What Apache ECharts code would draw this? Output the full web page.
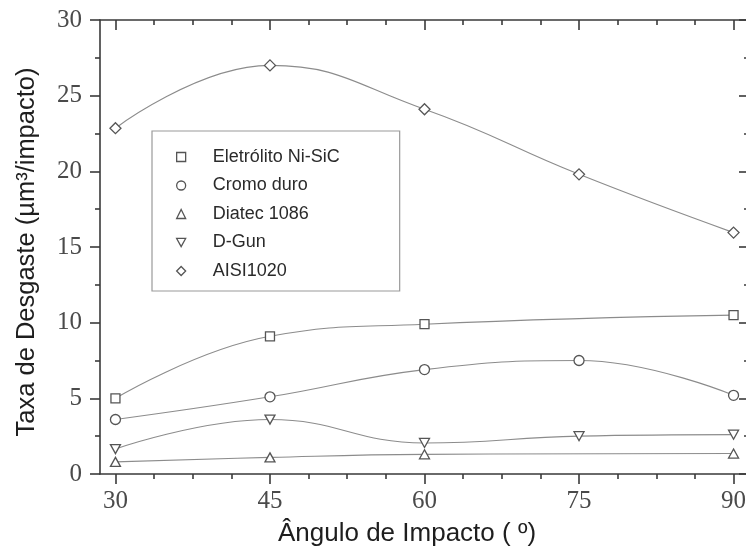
<!DOCTYPE html>
<html>
<head>
<meta charset="utf-8">
<script src="https://cdn.jsdelivr.net/npm/echarts@6/dist/echarts.min.js"></script>
<style>
  html, body { margin: 0; padding: 0; background: #fff; }
  #chart { width: 746px; height: 554px; }
</style>
</head>
<body>
<div id="chart"></div>
<script>
// ---- data ----
const angles = [30, 45, 60, 75, 90];
const seriesNames = ['Eletrólito Ni-SiC', 'Cromo duro', 'Diatec 1086', 'D-Gun', 'AISI1020'];
const eletrolito = [5.0, 9.1, 9.9, null, 10.5];
const cromoDuro  = [3.6, 5.1, 6.9, 7.5, 5.2];
const diatec     = [0.8, 1.1, 1.3, null, 1.35];
const dGun       = [1.65, 3.6, 2.05, 2.5, 2.6];
const aisi1020   = [22.85, 27.0, 24.1, 19.8, 15.95];
const xMajorTicks = [30, 45, 60, 75, 90];
const xMinorTicks = [33.75, 37.5, 41.25, 48.75, 52.5, 56.25, 63.75, 67.5, 71.25, 78.75, 82.5, 86.25];
const yTicks = [0, 5, 10, 15, 20, 25, 30];

// ---- styles ----
const xMin = 28.5, xMax = 91.5;
const axisColor = '#3a3a3a';
const lineColor = '#8c8c8c';
const markColor = '#555555';
const triDown = 'path://M0,0L10,0L5,9Z';
const symbols = ['rect', 'circle', 'triangle', triDown, 'diamond'];
const symSizes = [[9, 9], 10, [10, 9], [10, 9], [11, 11]];
const allValues = [eletrolito, cromoDuro, diatec, dGun, aisi1020];

function pairs(vals) {
  const out = [];
  vals.forEach((v, i) => { if (v !== null) out.push([angles[i], v]); });
  return out;
}

const chart = echarts.init(document.getElementById('chart'), null, { renderer: 'canvas' });

const baseX = { type: 'value', min: xMin, max: xMax, gridIndex: 0, splitLine: { show: false } };
const baseY = { type: 'value', min: 0, max: 30, interval: 5, gridIndex: 0, splitLine: { show: false } };

const option = {
  animation: false,
  backgroundColor: '#ffffff',
  grid: { left: 100, top: 20, width: 649, height: 454, containLabel: false, outerBoundsMode: 'none' },
  xAxis: [
    Object.assign({}, baseX, {
      position: 'bottom',
      axisLine: { show: true, onZero: false, lineStyle: { color: axisColor, width: 1.6 } },
      axisTick: { show: true, inside: false, length: 10, customValues: xMajorTicks, lineStyle: { color: axisColor, width: 1.6 } },
      axisLabel: { show: true, customValues: xMajorTicks, margin: 15, color: '#4a4a4a',
        fontFamily: 'Liberation Serif', fontSize: 25 }
    }),
    Object.assign({}, baseX, {
      position: 'bottom',
      axisLine: { show: false, onZero: false },
      axisTick: { show: true, inside: false, length: 5, customValues: xMinorTicks, lineStyle: { color: axisColor, width: 1.6 } },
      axisLabel: { show: false }
    }),
    Object.assign({}, baseX, {
      position: 'top',
      axisLine: { show: true, onZero: false, lineStyle: { color: axisColor, width: 1.6 } },
      axisTick: { show: true, inside: true, length: 10, customValues: xMajorTicks, lineStyle: { color: axisColor, width: 1.6 } },
      axisLabel: { show: false }
    }),
    Object.assign({}, baseX, {
      position: 'top',
      axisLine: { show: false, onZero: false },
      axisTick: { show: true, inside: true, length: 5, customValues: xMinorTicks, lineStyle: { color: axisColor, width: 1.6 } },
      axisLabel: { show: false }
    })
  ],
  yAxis: [
    Object.assign({}, baseY, {
      position: 'left',
      axisLine: { show: true, onZero: false, lineStyle: { color: axisColor, width: 1.6 } },
      axisTick: { show: true, inside: false, length: 10, lineStyle: { color: axisColor, width: 1.6 } },
      minorTick: { show: true, splitNumber: 2, length: 5, lineStyle: { color: axisColor, width: 1.6 } },
      axisLabel: { show: true, margin: 18, color: '#4a4a4a', fontFamily: 'Liberation Serif', fontSize: 25,
        customValues: yTicks }
    }),
    Object.assign({}, baseY, {
      position: 'right',
      axisLine: { show: true, onZero: false, lineStyle: { color: axisColor, width: 1.6 } },
      axisTick: { show: true, inside: true, length: 10, lineStyle: { color: axisColor, width: 1.6 } },
      minorTick: { show: true, splitNumber: 2, length: 5, lineStyle: { color: axisColor, width: 1.6 } },
      axisLabel: { show: false }
    })
  ],
  legend: {
    show: true,
    orient: 'vertical',
    left: 152,
    top: 131,
    padding: [17, 60, 11, 24],
    itemGap: 10.5,
    itemWidth: 9,
    itemHeight: 9,
    borderColor: '#9a9a9a',
    borderWidth: 1.2,
    borderRadius: 0,
    backgroundColor: '#ffffff',
    selectedMode: false,
    textStyle: { fontFamily: 'Liberation Sans', fontSize: 18, color: '#2a2a2a', lineHeight: 18,
      padding: [0, 0, 0, 22] },
    data: seriesNames.map((n, i) => ({
      name: n,
      icon: symbols[i],
      itemStyle: { color: '#ffffff', borderColor: markColor, borderWidth: 1.3 }
    }))
  },
  graphic: [
    {
      type: 'text',
      x: 407, y: 534,
      style: {
        text: 'Ângulo de Impacto ( º)',
        fontFamily: 'Liberation Sans', fontSize: 26, fill: '#1e1e1e',
        align: 'center', verticalAlign: 'middle'
      }
    },
    {
      type: 'text',
      x: 27, y: 252,
      rotation: Math.PI / 2,
      style: {
        text: 'Taxa de Desgaste (µm³/impacto)',
        fontFamily: 'Liberation Sans', fontSize: 25.5, fill: '#1e1e1e',
        align: 'center', verticalAlign: 'middle'
      }
    }
  ],
  series: seriesNames.map((n, i) => ({
    name: n,
    type: 'line',
    xAxisIndex: 0,
    yAxisIndex: 0,
    data: pairs(allValues[i]),
    smooth: 0.45,
    symbol: symbols[i],
    symbolSize: symSizes[i],
    showAllSymbol: true,
    lineStyle: { color: lineColor, width: 1.1 },
    itemStyle: { color: '#ffffff', borderColor: markColor, borderWidth: 1.3 },
    emphasis: { disabled: true },
    z: 3
  }))
};

chart.setOption(option);
</script>
</body>
</html>
